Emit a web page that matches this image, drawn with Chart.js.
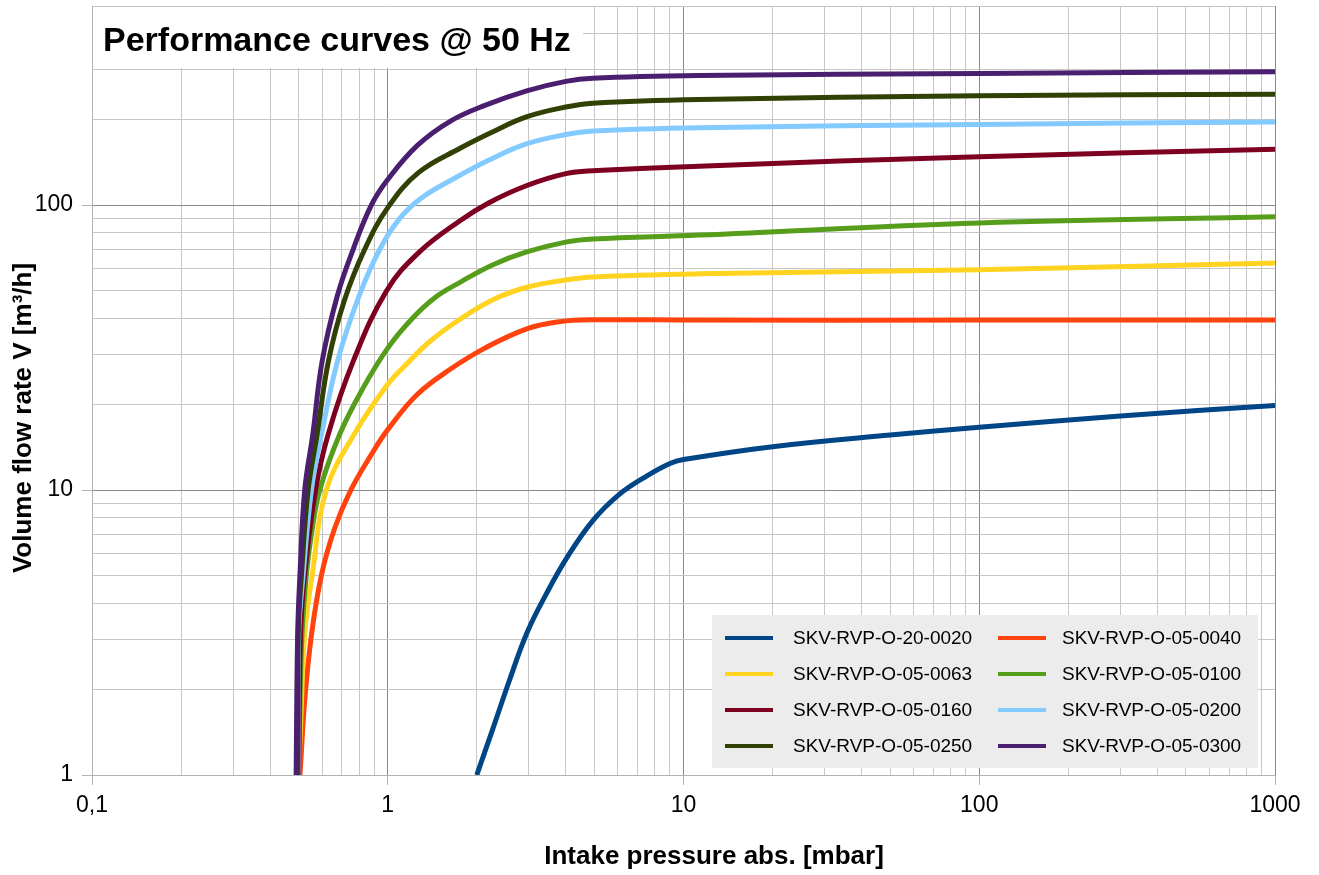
<!DOCTYPE html>
<html>
<head>
<meta charset="utf-8">
<script src="https://cdn.jsdelivr.net/npm/chart.js@4.4.0/dist/chart.umd.min.js"></script>
<style>
  html, body { margin: 0; padding: 0; background: #fff; }
  #wrap { width: 1319px; height: 875px; }
</style>
</head>
<body>
<div id="wrap"><canvas id="chart" width="1319" height="875"></canvas></div>
<script>
// texts
const chartTitle = 'Performance curves @ 50 Hz';
const xTitle = 'Intake pressure abs. [mbar]';
const yTitle = 'Volume flow rate V [m³/h]';

// series names and colours
const seriesLabels = [
    'SKV-RVP-O-20-0020', 'SKV-RVP-O-05-0040',
    'SKV-RVP-O-05-0063', 'SKV-RVP-O-05-0100',
    'SKV-RVP-O-05-0160', 'SKV-RVP-O-05-0200',
    'SKV-RVP-O-05-0250', 'SKV-RVP-O-05-0300'
];
const seriesColors = ['#004586', '#ff420e', '#ffd320', '#579d1c', '#7e0021', '#83caff', '#314004', '#4b1f6f'];

// pressure [mbar] / flow [m3/h]
const pressure0020 = [2.0, 2.26, 2.58, 2.95, 3.44, 4.03, 4.93, 6.08, 7.5, 9.0, 10, 20, 50, 100, 300, 1000];
const flow0020     = [1, 1.44, 2.15, 3.14, 4.33, 5.78, 7.8, 9.68, 11.2, 12.4, 12.8, 14.2, 15.6, 16.6, 18.2, 19.8];

const pressure0040 = [0.505, 0.524, 0.553, 0.598, 0.662, 0.75, 0.883, 1.0, 1.26, 1.64, 2.13, 2.95, 3.81, 4.93, 11.3, 100, 1000];
const flow0040     = [1, 1.83, 3.14, 5.08, 7.36, 10, 13.4, 16.3, 21.7, 26.7, 31.5, 36.8, 39, 39.6, 39.5, 39.5, 39.5];

const pressure0063 = [0.5, 0.511, 0.524, 0.556, 0.62, 0.77, 1.0, 1.15, 1.4, 1.75, 2.26, 2.95, 4.03, 4.93, 11.3, 100, 1000];
const flow0063     = [1, 1.83, 3.14, 5.08, 10, 15.7, 23.5, 27.5, 33.5, 39.7, 46.5, 51.5, 54.7, 56, 57.4, 59.3, 62.7];

const pressure0100 = [0.5, 0.505, 0.513, 0.531, 0.552, 0.589, 0.688, 0.823, 1.0, 1.21, 1.45, 1.75, 2.26, 2.95, 4.03, 4.93, 11.3, 100, 1000];
const flow0100     = [1, 1.83, 3.14, 5.08, 7.0, 10, 15.7, 22.7, 31.5, 40, 47.5, 53.5, 61.7, 68.5, 74.3, 76.1, 78.5, 86.6, 91];

const pressure0160 = [0.5, 0.507, 0.524, 0.57, 0.629, 0.764, 0.99, 1.27, 1.75, 2.2, 2.94, 4.0, 4.94, 11.3, 100, 1000];
const flow0160     = [1, 3.14, 5.08, 10, 15.7, 28.3, 50, 68, 88, 102, 117, 129, 132, 137, 148, 157];

const pressure0200 = [0.497, 0.50, 0.518, 0.552, 0.597, 0.676, 0.80, 0.94, 1.1, 1.3, 1.7, 2.2, 2.94, 4.0, 4.94, 11.3, 100, 1000];
const flow0200     = [1, 3.14, 5.08, 10, 15.7, 28.3, 48, 70, 90, 106, 125, 144, 164, 177, 182, 187, 192, 196];

const pressure0250 = [0.495, 0.498, 0.511, 0.538, 0.577, 0.63, 0.712, 0.836, 1.0, 1.27, 1.75, 2.27, 2.94, 4.0, 4.94, 11.3, 100, 1000];
const flow0250     = [1, 3.14, 5.08, 10, 15.7, 28.3, 46, 70, 98, 130, 158, 181, 204, 221, 228, 235, 242, 245];

const pressure0300 = [0.49, 0.496, 0.505, 0.524, 0.558, 0.60, 0.675, 0.764, 0.88, 1.0, 1.26, 1.64, 2.13, 2.95, 4.0, 4.93, 11.3, 100, 1000];
const flow0300     = [1, 3.14, 5.08, 10, 15.7, 28.3, 48, 70, 100, 123, 162, 198, 224, 252, 272, 279, 285, 290, 294];

const seriesPressure = [pressure0020, pressure0040, pressure0063, pressure0100, pressure0160, pressure0200, pressure0250, pressure0300];
const seriesFlow     = [flow0020, flow0040, flow0063, flow0100, flow0160, flow0200, flow0250, flow0300];

const FONT = "'Liberation Sans', Arial, sans-serif";

function isDecade(v) {
    const l = Math.log10(v);
    return Math.abs(l - Math.round(l)) < 1e-6;
}

// keep only 1..9 x 10^n ticks (v4 also adds 1.5, 15, ...)
function keepIntegerTicks(scale) {
    scale.ticks = scale.ticks.filter(t => {
        const m = t.value / Math.pow(10, Math.floor(Math.log10(t.value) + 1e-9));
        return Math.abs(m - Math.round(m)) < 1e-6;
    });
}

const gridOpts = {
    color: c => (c.tick && isDecade(c.tick.value)) ? '#8a8a8a' : '#c6c6c6',
    tickColor: c => (c.tick && isDecade(c.tick.value)) ? '#b3b3b3' : 'rgba(0,0,0,0)',
    tickLength: 10,
    lineWidth: 1
};

const overlayPlugin = {
    id: 'overlay',
    beforeDatasetsDraw(chart) {
        const ctx = chart.ctx;
        const area = chart.chartArea;
        ctx.save();
        ctx.fillStyle = '#fff';
        ctx.fillRect(area.left + 1, area.top + 1, 490, 61);
        ctx.fillStyle = '#000';
        ctx.font = 'bold 34px ' + FONT;
        ctx.textBaseline = 'alphabetic';
        ctx.fillText(chartTitle, area.left + 11, area.top + 45);
        ctx.restore();
    },
    afterDatasetsDraw(chart) {
        const ctx = chart.ctx;
        const bx = 712, by = 615, bw = 546, bh = 153;
        ctx.save();
        ctx.fillStyle = '#ececec';
        ctx.fillRect(bx, by, bw, bh);
        ctx.font = '19px ' + FONT;
        ctx.textBaseline = 'middle';
        chart.data.datasets.forEach((ds, i) => {
            const col = i % 2, row = Math.floor(i / 2);
            const lx = bx + (col ? 286 : 13);
            const y = by + 23 + row * 36;
            ctx.strokeStyle = ds.borderColor;
            ctx.lineWidth = 4;
            ctx.beginPath();
            ctx.moveTo(lx, y);
            ctx.lineTo(lx + 48, y);
            ctx.stroke();
            ctx.fillStyle = '#000';
            ctx.fillText(ds.label, lx + (col ? 64 : 68), y + 1);
        });
        ctx.restore();
    },
    afterDraw(chart) {
        const ctx = chart.ctx;
        ctx.save();
        ctx.fillStyle = '#000';
        ctx.font = 'bold 26px ' + FONT;
        ctx.textAlign = 'center';
        ctx.textBaseline = 'middle';
        ctx.fillText(xTitle, 714, 857);
        ctx.translate(24, 418);
        ctx.rotate(-Math.PI / 2);
        ctx.fillText(yTitle, 0, 0);
        ctx.restore();
    }
};

new Chart(document.getElementById('chart').getContext('2d'), {
    type: 'line',
    data: {
        datasets: seriesLabels.map((label, i) => ({
            label: label,
            data: seriesPressure[i].map((p, j) => ({ x: p, y: seriesFlow[i][j] })),
            borderColor: seriesColors[i],
            backgroundColor: seriesColors[i],
            borderWidth: 5,
            pointRadius: 0,
            fill: false,
            tension: 0.4,
            order: seriesLabels.length - i
        }))
    },
    options: {
        responsive: false,
        animation: false,
        devicePixelRatio: 1,
        layout: { padding: { top: 6, right: 44, left: 0, bottom: 0 } },
        plugins: {
            legend: { display: false },
            title: { display: false },
            tooltip: { enabled: false }
        },
        scales: {
            x: {
                type: 'logarithmic',
                min: 0.1,
                max: 1000,
                afterBuildTicks: keepIntegerTicks,
                afterFit(scale) { scale.height = 100; },
                grid: gridOpts,
                border: { color: '#b3b3b3' },
                ticks: {
                    autoSkip: false,
                    maxRotation: 0,
                    padding: 7,
                    color: '#000',
                    font: { family: FONT, size: 23 },
                    callback: v => isDecade(v) ? String(v).replace('.', ',') : ''
                }
            },
            y: {
                type: 'logarithmic',
                min: 1,
                max: 500,
                afterBuildTicks: keepIntegerTicks,
                afterFit(scale) {
                    scale.width = 92;
                    scale.paddingTop = 0;
                    scale.paddingBottom = 0;
                },
                grid: gridOpts,
                border: { color: '#b3b3b3' },
                ticks: {
                    autoSkip: false,
                    padding: 9,
                    color: '#000',
                    font: { family: FONT, size: 23 },
                    callback: v => isDecade(v) ? String(v) : ''
                }
            }
        }
    },
    plugins: [overlayPlugin]
});
</script>
</body>
</html>
